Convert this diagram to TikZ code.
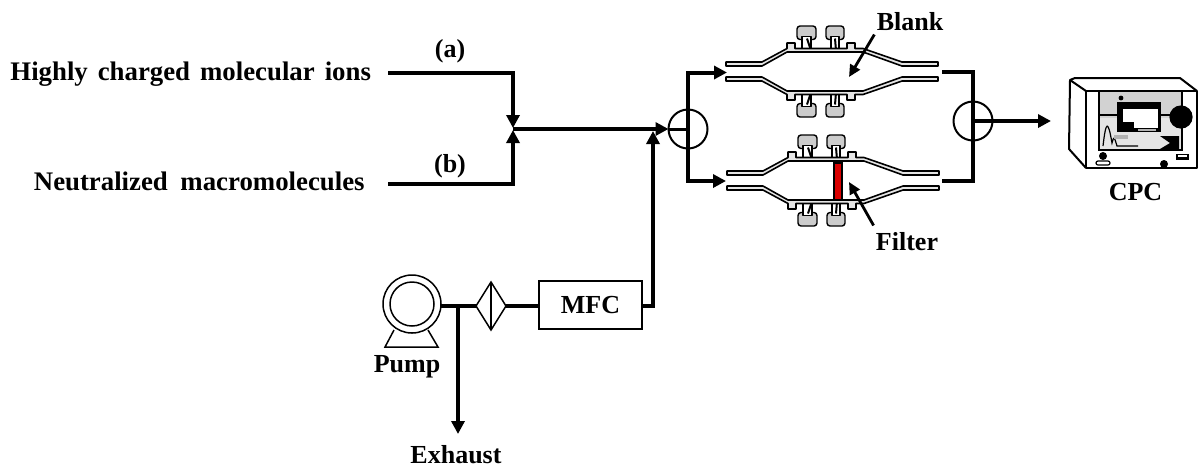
\documentclass[tikz,border=0pt]{standalone}
\usepackage{fontspec}
\setmainfont{Liberation Serif}
\usetikzlibrary{calc,positioning,arrows.meta,shapes.geometric}
\tikzstyle{label}   = [font=\fontsize{13}{15}\selectfont\bfseries, inner sep=2pt]
\tikzstyle{longlabel} = [font=\fontsize{13.4}{15}\selectfont\bfseries, inner sep=2pt, anchor=west]
\tikzstyle{pipe}    = [line width=2pt]
\tikzstyle{arrow}   = [line width=2pt,-{Triangle[length=6.5pt,width=6.5pt]}]
\tikzstyle{pointer} = [line width=1.4pt,-{Triangle[length=6pt,width=5.5pt]}]
\tikzstyle{valve}   = [circle, draw, line width=1pt, minimum size=19.5pt, inner sep=0pt, outer sep=0pt]
\tikzstyle{thin}    = [line width=0.75pt, outer sep=0pt]
\tikzstyle{wall}    = [line width=0.8pt, fill=gray!20, line join=round]
\tikzstyle{clamp}   = [line width=0.7pt, fill=gray!40, rounded corners=1.5pt]

\begin{document}
\begin{tikzpicture}[x=0.5pt,y=-0.5pt]
    \useasboundingbox (0,0) rectangle (1199,473);

    % flow cells
    \foreach \cx/\cy in {0/71.5,1/180.5} {
        \begin{scope}[shift={(\cx,\cy)}]
            \foreach \s in {1,-1} {
                \begin{scope}[yscale=\s]
                    \draw[clamp] (797,-45.5) rectangle (816,-32);
                    \draw[clamp] (826,-45.5) rectangle (844,-32);
                    \draw[wall,fill=white] (802,-23) -- (802,-35) -- (811,-35) -- (811,-23);
                    \draw[wall,fill=white] (831,-23) -- (831,-35) -- (839,-35) -- (839,-23);
                    \draw[line width=1pt] (807,-33) -- (811,-21);
                    \draw[line width=1pt] (835,-33) -- (836,-21);
                    \draw[wall] (726,-9.5) -- (762,-9.5) -- (787,-23) -- (787,-28.5) -- (795,-28.5) -- (795,-23)
                        -- (847,-23) -- (847,-28.5) -- (855,-28.5) -- (855,-23) -- (863,-23)
                        -- (902,-9.5) -- (938,-9.5) -- (938,-5.5) -- (902,-5.5) -- (863,-19.5)
                        -- (787,-19.5) -- (762,-5.5) -- (726,-5.5) -- cycle;
                \end{scope}
            }
        \end{scope}
    }
    \draw[fill=red!85!black, line width=0.6pt] (834,163) rectangle (842,200);

    % labels
    \node[longlabel] (ions) at (6,74) {\spaceskip=5pt Highly charged molecular ions};
    \node[longlabel] (neutral) at (29.5,181) {\spaceskip=6.3pt Neutralized macromolecules};
    \node[label] (a) at (450,51) {(a)};
    \node[label] (b) at (450,166) {(b)};
    \node[label] (blank) at (910,22) {Blank};
    \node[label] (filter) at (907,242) {Filter};
    \node[label] (cpclabel) at (1135.5,192) {CPC};
    \node[label] (pumplabel) at (407,367) {Pump};
    \node[label] (exhaust) at (456,455) {Exhaust};

    % units
    \node[draw, thin, minimum width=51.5pt, minimum height=24pt, inner sep=0pt, label] (mfc) at (590.5,305) {MFC};
    \node[diamond, draw, thin, minimum width=15pt, minimum height=24pt, inner sep=0pt, aspect=0.62] (dryer) at (491,306) {};
    \draw[thin] (dryer.north) -- (dryer.south);
    \node[circle, draw, thin, minimum size=29pt, inner sep=0pt] (pump) at (412,304) {};
    \node[circle, draw, thin, minimum size=22pt, inner sep=0pt] at (pump) {};
    \draw[thin] (394,330) -- (385,347) -- (438,347) -- (428,330);
    \node[valve] (valveL) at (688,129) {};
    \node[valve] (valveR) at (973,121) {};

    % free ends
    \coordinate (ionsEnd) at (388,73);
    \coordinate (neutralEnd) at (388,184);
    \coordinate (join) at (513,129);
    \coordinate (cellAin) at (727,72.5);
    \coordinate (cellBin) at (726,181);
    \coordinate (cellAout) at (942,72);
    \coordinate (cellBout) at (942,181);
    \coordinate (cpcIn) at (1051,121);
    \coordinate (tee) at (458,306);
    \coordinate (exhaustEnd) at (458,434);
    \coordinate (blankTip) at (849,77);
    \coordinate (filterTip) at (849,182);

    % connectors
    \draw[arrow] (ionsEnd) -| ($(join)+(0,-1)$);
    \draw[arrow] (neutralEnd) -| ($(join)+(0,1)$);
    \draw[arrow] (join) -- (valveL.west);
    \draw[line width=1.5pt] (valveL.west) -- (valveL.center);
    \draw[arrow] (valveL.center) |- (cellAin);
    \draw[arrow] (valveL.center) |- (cellBin);
    \draw[pipe] (cellAout) -| (valveR.center);
    \draw[pipe] (cellBout) -| (valveR.center);
    \draw[arrow] (valveR.center) -- (cpcIn);
    \draw[pipe] (pump.east |- tee) -- (dryer.west);
    \draw[pipe] (dryer.east) -- (mfc.west |- dryer);
    \draw[arrow] (mfc.east |- tee) -| (653,131);
    \draw[arrow] (tee) -- (exhaustEnd);
    \draw[pointer] ($(blank.south west)+(2,-1)$) -- (blankTip);
    \draw[pointer] ($(filter.north west)+(2,-3)$) -- (filterTip);

    % CPC
    \draw[line width=1pt, line join=round, fill=white] (1086,91) -- (1197,91) -- (1197,168) -- (1086,168) -- cycle;
    \draw[line width=1pt, line join=round] (1086,91) -- (1070,80) -- (1075,78) -- (1180,78) -- (1197,91);
    \draw[line width=1pt, line join=round] (1070,80) -- (1069,149) -- (1086,168);
    \draw[line width=0.6pt, fill=gray!35] (1099,91) rectangle (1182,150);
    \fill[gray!20] (1100,118) rectangle (1181,149);
    \draw[line width=0.6pt] (1099,115) -- (1117,115);
    \draw[line width=0.6pt] (1161,115) -- (1175,115);
    \fill[black] (1117,102) rectangle (1161,132);
    \fill[white] (1123,109) rectangle (1158,128);
    \fill[black] (1123,122) rectangle (1134,128);
    \fill[gray!60] (1138,128.5) rectangle (1156,131);
    \fill[black] (1121,98) circle (1.2pt);
    \draw[line width=0.6pt] (1103,146) .. controls (1106,120) and (1108,120) .. (1112,143) .. controls (1114,136) .. (1117,146) -- (1138,146);
    \fill[gray!60] (1114,135) rectangle (1128,139);
    \fill[black] (1160,136) -- (1179,136) -- (1179,149) -- (1160,149) -- (1170,143) -- cycle;
    \draw[fill=black, line width=0.6pt] (1181,117) circle (5.5pt);
    \fill[black] (1103,156) circle (2pt);
    \draw[line width=0.6pt, rounded corners=1pt, fill=white] (1096,161) rectangle (1110,165);
    \fill[black] (1164,164) circle (2pt);
    \fill[black] (1176,154) rectangle (1189,160);
    \fill[white] (1178,155) rectangle (1187,157);
\end{tikzpicture}
\end{document}
